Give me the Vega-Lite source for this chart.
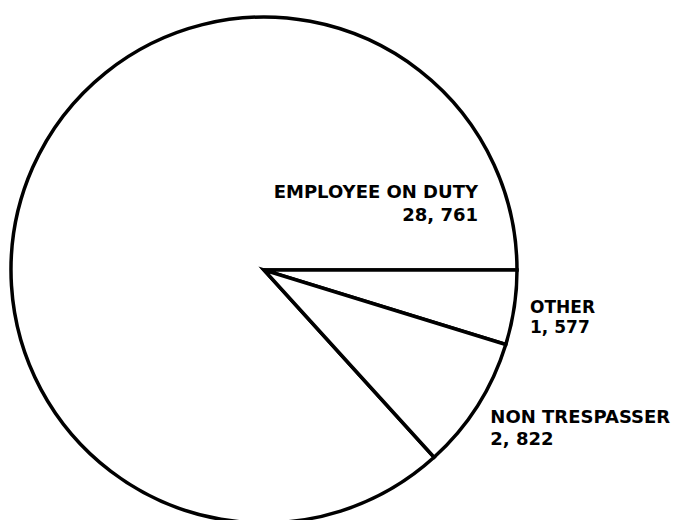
{
  "$schema": "https://vega.github.io/schema/vega-lite/v6.json",
  "width": 528,
  "height": 540,
  "padding": 0,
  "autosize": {"type": "pad"},
  "background": "white",
  "config": {"view": {"stroke": null}},
  "data": {
    "values": [
      {"category": "EMPLOYEE ON DUTY", "value": 28761, "label": "EMPLOYEE ON DUTY\n28, 761"},
      {"category": "OTHER", "value": 1577, "label": "OTHER\n1, 577"},
      {"category": "NON TRESPASSER", "value": 2822, "label": "NON TRESPASSER\n2, 822"}
    ]
  },
  "encoding": {
    "theta": {"field": "value", "type": "quantitative", "stack": true, "scale": {"range": [1.5708, 7.854]}},
    "order": {"field": "value", "type": "quantitative", "sort": "ascending"}
  },
  "layer": [
    {
      "mark": {"type": "arc", "outerRadius": 253, "fill": "white", "stroke": "black", "strokeWidth": 3.5, "strokeJoin": "miter"}
    },
    {
      "mark": {"type": "text", "font": "DejaVu Sans", "fontWeight": "bold", "fontSize": 18, "align": "right", "baseline": "alphabetic", "lineBreak": "\n", "lineHeight": 23, "dx": 214, "dy": -72, "color": "black"},
      "encoding": {
        "radius": {"value": 0},
        "text": {"condition": {"test": "datum.category === 'EMPLOYEE ON DUTY'", "field": "label"}, "value": ""}
      }
    },
    {
      "mark": {"type": "text", "font": "DejaVu Sans", "fontWeight": "bold", "fontSize": 17, "align": "left", "baseline": "alphabetic", "lineBreak": "\n", "lineHeight": 20, "dx": 1, "dy": 3, "color": "black"},
      "encoding": {
        "radius": {"value": 268},
        "text": {"condition": {"test": "datum.category === 'OTHER'", "field": "label"}, "value": ""}
      }
    },
    {
      "mark": {"type": "text", "font": "DejaVu Sans", "fontWeight": "bold", "fontSize": 18, "align": "left", "baseline": "alphabetic", "lineBreak": "\n", "lineHeight": 22, "dx": 1, "dy": 10, "color": "black"},
      "encoding": {
        "radius": {"value": 267},
        "text": {"condition": {"test": "datum.category === 'NON TRESPASSER'", "field": "label"}, "value": ""}
      }
    }
  ]
}
